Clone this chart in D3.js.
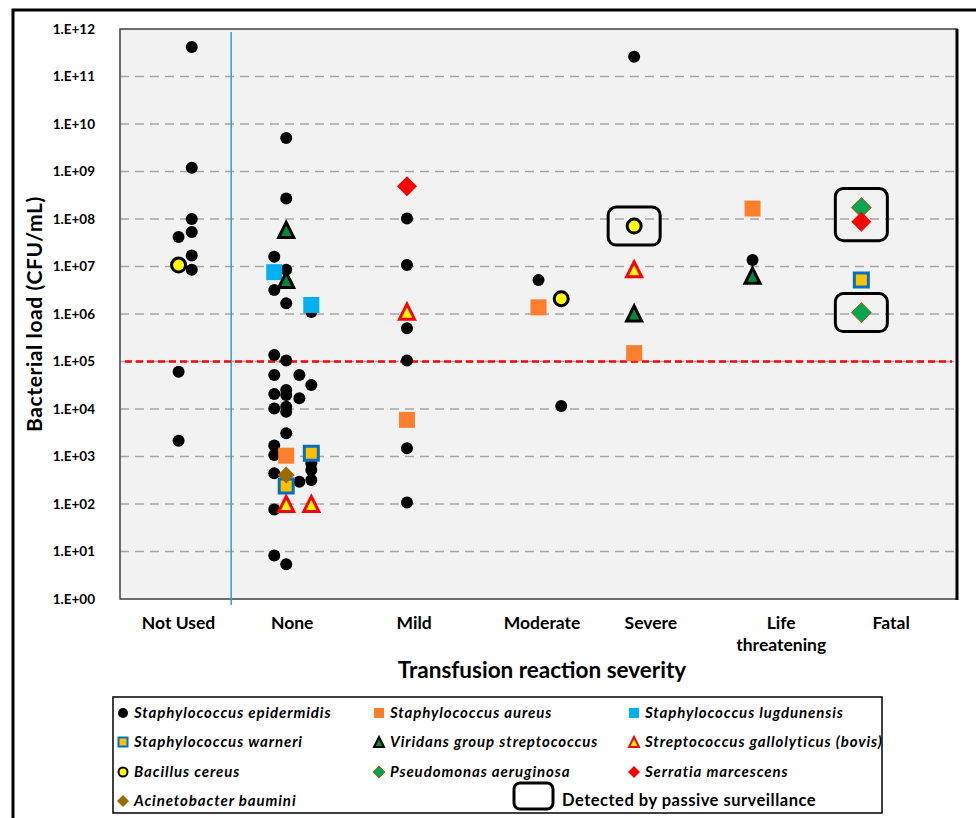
<!DOCTYPE html>
<html>
<head>
<meta charset="utf-8">
<script src="https://cdn.jsdelivr.net/npm/d3@7"></script>
<style>
  body { margin: 0; background: #fff; }
  svg { display: block; font-family: Lato, "Open Sans", sans-serif; }
</style>
</head>
<body>
<svg id="chart" width="976" height="818"></svg>
<script>
// categories along the bottom and where their labels sit (x units)
var categories = ["Not Used", "None", "Mild", "Moderate", "Severe", "Life threatening", "Fatal"];
var categoryX = [0.49, 1.44, 2.46, 3.53, 4.44, 5.53, 6.45];
var yTicks = [1e0, 1e1, 1e2, 1e3, 1e4, 1e5, 1e6, 1e7, 1e8, 1e9, 1e10, 1e11, 1e12];
var cutoff = 1e5;          // red dashed line
var dividerX = 0.93;       // blue vertical line

// one array per organism: [x, CFU/mL]
var epidermidis = [
  [0.6, 4.2e11], [0.6, 1.2e9], [0.6, 1e8], [0.6, 5.3e7], [0.49, 4.2e7], [0.6, 1.7e7],
  [0.6, 8.5e6], [0.49, 6.1e4], [0.49, 2.15e3],
  [1.39, 5.1e9], [1.39, 2.7e8], [1.29, 1.6e7], [1.39, 8.5e6], [1.29, 3.2e6], [1.39, 1.68e6],
  [1.6, 1.1e6], [1.29, 1.37e5], [1.39, 1.05e5], [1.29, 5.2e4], [1.5, 5.2e4], [1.6, 3.2e4],
  [1.29, 2.07e4], [1.39, 2.5e4], [1.39, 1.97e4], [1.5, 1.68e4], [1.29, 1.03e4], [1.39, 1.12e4],
  [1.39, 8.8e3], [1.39, 3.1e3], [1.29, 1.7e3], [1.29, 1.07e3], [1.6, 720], [1.6, 520],
  [1.6, 320], [1.5, 295], [1.29, 443], [1.29, 77], [1.29, 8.2], [1.39, 5.4],
  [2.4, 1.03e8], [2.4, 1.07e7], [2.4, 5e5], [2.4, 1.05e5], [2.4, 1.5e3], [2.4, 107],
  [3.5, 5.2e6], [3.69, 1.15e4],
  [4.3, 2.6e11],
  [5.29, 1.37e7]
];
var aureus = [[1.39, 1.04e3], [2.4, 5.9e3], [3.5, 1.38e6], [4.3, 1.5e5], [5.29, 1.66e8]];
var lugdunensis = [[1.29, 7.6e6], [1.6, 1.55e6]];
var warneri = [[1.6, 1.17e3], [1.39, 240], [6.2, 5.2e6]];
var viridans = [[1.39, 5.9e7], [1.39, 5.2e6], [4.3, 1.03e6], [5.29, 6.4e6]];
var gallolyticus = [[1.39, 100], [1.6, 100], [2.4, 1.12e6], [4.3, 8.7e6]];
var bacillus = [[0.49, 1.07e7], [3.69, 2.1e6], [4.3, 7.1e7]];
var pseudomonas = [[6.2, 1.74e8], [6.2, 1.07e6]];
var serratia = [[2.4, 4.9e8], [6.2, 8.8e7]];
var acinetobacter = [[1.39, 408]];

// groups of points detected by passive surveillance: [x, low, high]
var passive = [[4.3, 7.1e7, 7.1e7], [6.2, 8.8e7, 1.74e8], [6.2, 1.07e6, 1.07e6]];

// marker shapes
function circlePath(s) { return d3.symbol(d3.symbolCircle, Math.PI * s * s / 4)(); }
function squarePath(s) { var h = s / 2; return "M" + -h + "," + -h + "H" + h + "V" + h + "H" + -h + "Z"; }
function trianglePath(s) { var h = s / 2; return "M0," + -h + "L" + h + "," + h + "L" + -h + "," + h + "Z"; }
function diamondPath(s) { var h = s / 2; return "M0," + -h + "L" + h + ",0L0," + h + "L" + -h + ",0Z"; }

var species = [
  { name: "Staphylococcus epidermidis", data: epidermidis, shape: circlePath, size: 12, legSize: 10, fill: "#000", stroke: "none", sw: 0 },
  { name: "Staphylococcus aureus", data: aureus, shape: squarePath, size: 16, legSize: 10, fill: "#fd7f2c", stroke: "none", sw: 0 },
  { name: "Staphylococcus lugdunensis", data: lugdunensis, shape: squarePath, size: 16, legSize: 10, fill: "#00b0f0", stroke: "none", sw: 0 },
  { name: "Staphylococcus warneri", data: warneri, shape: squarePath, size: 14, legSize: 9, fill: "#ffc000", stroke: "#0070c0", sw: 3 },
  { name: "Viridans group streptococcus", data: viridans, shape: trianglePath, size: 15, legSize: 10, fill: "#00873e", stroke: "#000", sw: 3 },
  { name: "Streptococcus gallolyticus (bovis)", data: gallolyticus, shape: trianglePath, size: 15, legSize: 10, fill: "#ffff00", stroke: "#ff0000", sw: 3 },
  { name: "Bacillus cereus", data: bacillus, shape: circlePath, size: 14, legSize: 9, fill: "#ffff00", stroke: "#000", sw: 3 },
  { name: "Pseudomonas aeruginosa", data: pseudomonas, shape: diamondPath, size: 20, legSize: 12, fill: "#00a650", stroke: "#c55a11", sw: 1 },
  { name: "Serratia marcescens", data: serratia, shape: diamondPath, size: 20, legSize: 12, fill: "#ff0000", stroke: "none", sw: 0 },
  { name: "Acinetobacter baumini", data: acinetobacter, shape: diamondPath, size: 17, legSize: 12, fill: "#9c6a00", stroke: "none", sw: 0 }
];

var svg = d3.select("#chart");
var plot = { left: 120, top: 29, right: 957, bottom: 599 };

var x = d3.scaleLinear().domain([0, 7]).range([plot.left, plot.right]);
var y = d3.scaleLog().domain([1e0, 1e12]).range([plot.bottom, plot.top]);

// outer frame (open on right and bottom)
svg.append("path")
    .attr("d", "M13,818V10H976")
    .attr("fill", "none")
    .attr("stroke", "#000")
    .attr("stroke-width", 3);

// plot background
svg.append("rect")
    .attr("x", plot.left).attr("y", plot.top)
    .attr("width", plot.right - plot.left).attr("height", plot.bottom - plot.top)
    .attr("fill", "#f2f2f2");

// dashed gridlines
svg.append("g")
  .selectAll("line")
  .data(yTicks.slice(1, -1))
  .join("line")
    .attr("x1", plot.left).attr("x2", plot.right)
    .attr("y1", d => y(d)).attr("y2", d => y(d))
    .attr("stroke", "#a6a6a6")
    .attr("stroke-width", 1.5)
    .attr("stroke-dasharray", "9,6");

// plot border, heavier on the right like the original shadow
svg.append("rect")
    .attr("x", plot.left).attr("y", plot.top)
    .attr("width", plot.right - plot.left).attr("height", plot.bottom - plot.top)
    .attr("fill", "none")
    .attr("stroke", "#404040")
    .attr("stroke-width", 1.5);
svg.append("line")
    .attr("x1", plot.right).attr("x2", plot.right)
    .attr("y1", plot.top).attr("y2", plot.bottom + 1)
    .attr("stroke", "#000").attr("stroke-width", 3);

// y axis labels
var yAxis = d3.axisLeft(y)
    .tickValues(yTicks)
    .tickSize(0)
    .tickPadding(25)
    .tickFormat(d => "1.E+" + String(Math.round(Math.log10(d))).padStart(2, "0"));

svg.append("g")
    .attr("transform", "translate(" + plot.left + ",0)")
    .call(yAxis)
    .call(g => g.select(".domain").remove())
    .selectAll("text")
    .attr("font-family", "Lato, sans-serif")
    .attr("font-size", 13.5)
    .attr("font-weight", "bold")
    .attr("fill", "#000");

svg.append("text")
    .attr("transform", "translate(42," + (plot.top + plot.bottom) / 2 + ") rotate(-90)")
    .attr("text-anchor", "middle")
    .attr("font-size", 21)
    .attr("font-weight", "bold")
    .attr("letter-spacing", 0.6)
    .text("Bacterial load (CFU/mL)");

// blue divider and red cutoff
svg.append("line")
    .attr("x1", x(dividerX)).attr("x2", x(dividerX))
    .attr("y1", plot.top + 3).attr("y2", plot.bottom + 6)
    .attr("stroke", "#2f9fd8").attr("stroke-width", 1.5);

svg.append("line")
    .attr("x1", plot.left + 5).attr("x2", plot.right - 5)
    .attr("y1", y(cutoff)).attr("y2", y(cutoff))
    .attr("stroke", "#ff0000").attr("stroke-width", 2.5)
    .attr("stroke-dasharray", "7,4");

// category labels
var catG = svg.append("g");
catG.selectAll("text")
  .data(categories)
  .join("text")
    .attr("x", (d, i) => x(categoryX[i]))
    .attr("y", 629)
    .attr("text-anchor", "middle")
    .attr("font-size", 17.5)
    .attr("font-weight", "bold")
    .each(function(d) {
      var words = d === "Life threatening" ? ["Life", "threatening"] : [d];
      var t = d3.select(this);
      words.forEach((w, k) => {
        t.append("tspan").attr("x", t.attr("x")).attr("dy", k ? 22 : 0).text(w);
      });
    });

svg.append("text")
    .attr("x", 542).attr("y", 678)
    .attr("text-anchor", "middle")
    .attr("font-size", 22.5)
    .attr("font-weight", "bold")
    .text("Transfusion reaction severity");

// passive surveillance boxes
svg.append("g")
  .selectAll("rect")
  .data(passive)
  .join("rect")
    .attr("x", d => x(d[0]) - 26)
    .attr("y", d => y(d[2]) - 19)
    .attr("width", 52)
    .attr("height", d => y(d[1]) - y(d[2]) + 38)
    .attr("rx", 8)
    .attr("fill", "none")
    .attr("stroke", "#000")
    .attr("stroke-width", 3);

// markers
species.forEach(function(s) {
  svg.append("g")
    .selectAll("path")
    .data(s.data)
    .join("path")
      .attr("transform", d => "translate(" + x(d[0]) + "," + y(d[1]) + ")")
      .attr("d", s.shape(s.size))
      .attr("fill", s.fill)
      .attr("stroke", s.stroke)
      .attr("stroke-width", s.sw)
      .attr("stroke-linejoin", "miter");
});

// legend
var legend = svg.append("g");
legend.append("rect")
    .attr("x", 113).attr("y", 697)
    .attr("width", 769).attr("height", 116)
    .attr("fill", "#fff")
    .attr("stroke", "#000")
    .attr("stroke-width", 1.5);

var colX = [123, 379, 634];
var rowY = [713, 742, 772, 801];

var item = legend.selectAll("g.item")
  .data(species)
  .join("g")
    .attr("class", "item")
    .attr("transform", (d, i) => "translate(" + colX[i % 3] + "," + rowY[Math.floor(i / 3)] + ")");

item.append("path")
    .attr("d", d => d.shape(d.legSize))
    .attr("fill", d => d.fill)
    .attr("stroke", d => d.stroke)
    .attr("stroke-width", d => Math.min(d.sw, 2));

item.append("text")
    .attr("x", 11)
    .attr("y", 5)
    .attr("font-size", 15)
    .attr("font-weight", "bold")
    .attr("font-style", "italic")
    .attr("letter-spacing", 0.9)
    .text(d => d.name);

legend.append("rect")
    .attr("x", 514).attr("y", 783)
    .attr("width", 39).attr("height", 26)
    .attr("rx", 6)
    .attr("fill", "none")
    .attr("stroke", "#000")
    .attr("stroke-width", 3);

legend.append("text")
    .attr("x", 562).attr("y", 806)
    .attr("font-size", 16.5)
    .attr("font-weight", "bold")
    .attr("letter-spacing", 0.5)
    .text("Detected by passive surveillance");
</script>
</body>
</html>
